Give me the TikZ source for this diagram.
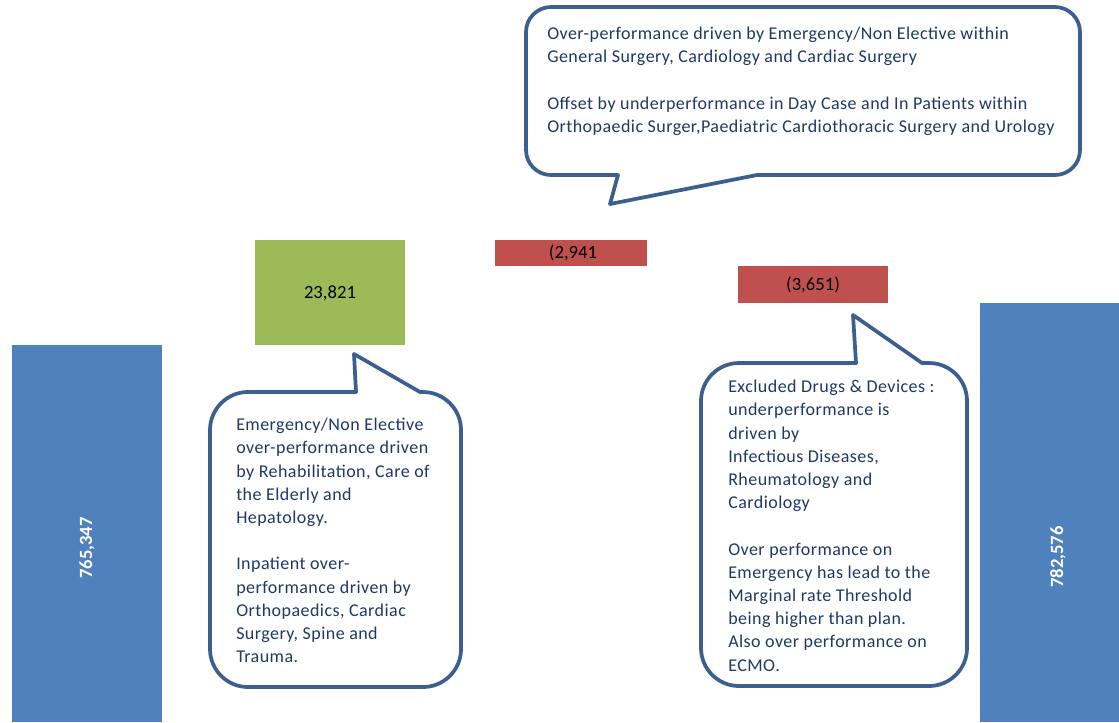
\documentclass[tikz,border=0pt]{standalone}
\usepackage{fontspec}
\setmainfont{Carlito}
\newfontfamily\notefont{Carlito}[LetterSpace=2.5]

\definecolor{barblue}{HTML}{4F81BD}
\definecolor{bargreen}{HTML}{9BBB59}
\definecolor{barred}{HTML}{C0504D}
\definecolor{calloutline}{HTML}{3B5F8F}
\definecolor{callouttext}{HTML}{1F3864}

\begin{document}
\begin{tikzpicture}[x=0.75pt, y=-0.75pt,
    callout/.style={line width=2.8pt, draw=calloutline, line join=round},
    note/.style={anchor=north west, inner sep=0pt, align=left, text=callouttext,
                 font=\notefont\fontsize{13.5}{17.4}\selectfont},
    val/.style={inner sep=0pt, font=\fontsize{14}{17}\selectfont}]
%\draw [help lines, step=50] (0,0) grid (1119,722);
\useasboundingbox (0,0) rectangle (1119,722);

% bars
\fill [barblue] (12,345) rectangle (162,722);
\fill [bargreen] (255,240) rectangle (405,345);
\fill [barred] (495,240) rectangle (647,266);
\fill [barred] (738,266) rectangle (888,303);
\fill [barblue] (980,303) rectangle (1119,722);

\node [val, rotate=90, text=white] (openval) at (87,548) {\bfseries 765,347};
\node [val] (growval) at (330,293) {23,821};
\node [val] (offsetval) at (573,253) {(2,941};
\node [val] (drugsval) at (813,285) {(3,651)};
\node [val, rotate=90, text=white] (closeval) at (1058,557) {\bfseries 782,576};

% top callout
\draw [callout] (757,175) -- (1055,175) arc (90:0:25) -- (1080,32) arc (0:-90:25)
    -- (551,7) arc (-90:-180:25) -- (526,150) arc (180:90:25)
    -- (618,175) -- (610,204) -- cycle;
\node [note] (topnote) at (547,27) {Over-performance driven by Emergency/Non Elective within\\
General Surgery, Cardiology and Cardiac Surgery\\[17.4pt]
Offset by underperformance in Day Case and In Patients within\\
Orthopaedic Surger,Paediatric Cardiothoracic Surgery and Urology};

% left callout
\draw [callout] (420,392) -- (423,392) arc (-90:0:38) -- (461,649) arc (0:90:38)
    -- (248,687) arc (90:180:38) -- (210,430) arc (180:270:38)
    -- (356,392) -- (354,354) -- cycle;
\node [note] (leftnote) at (236,418) {Emergency/Non Elective\\
over-performance driven\\
by Rehabilitation, Care of\\
the Elderly and\\
Hepatology.\\[17.4pt]
Inpatient over-\\
performance driven by\\
Orthopaedics, Cardiac\\
Surgery, Spine and\\
Trauma.};

% right callout
\draw [callout] (922,363) -- (929,363) arc (-90:0:38) -- (967,648) arc (0:90:38)
    -- (739,686) arc (90:180:38) -- (701,401) arc (180:270:38)
    -- (856,363) -- (853,315) -- cycle;
\node [note] (rightnote) at (728,380) {Excluded Drugs \& Devices :\\
underperformance is\\
driven by\\
Infectious Diseases,\\
Rheumatology and\\
Cardiology\\[17.4pt]
Over performance on\\
Emergency has lead to the\\
Marginal rate Threshold\\
being higher than plan.\\
Also over performance on\\
ECMO.};

\end{tikzpicture}
\end{document}
